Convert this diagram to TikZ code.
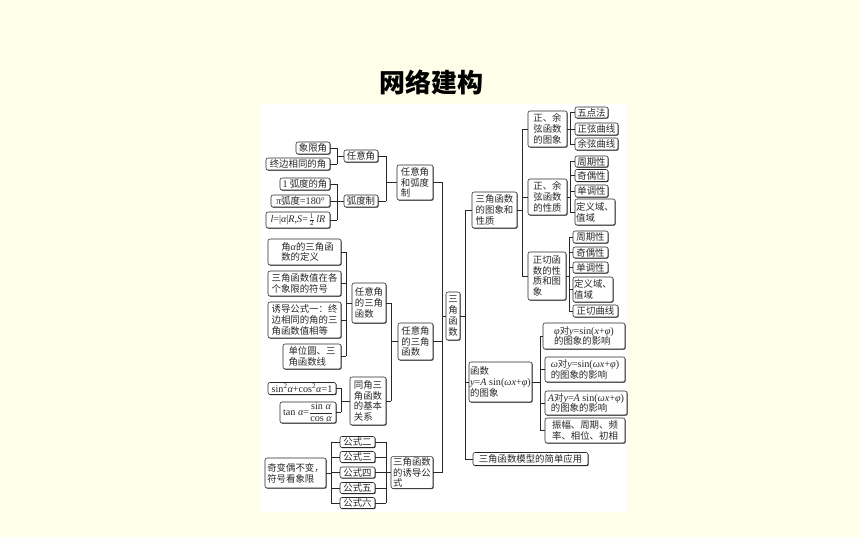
\documentclass[tikz,border=0pt]{standalone}
\usepackage{amsmath}
\usepackage[no-math]{fontspec}
\setmainfont{Noto Sans CJK SC}
\newfontfamily\lser[Scale=1.08]{Liberation Serif}
\usetikzlibrary{shadows}
\definecolor{bgc}{RGB}{254,254,233}
\definecolor{ink}{RGB}{40,40,40}
\newcommand\F[1]{{\lser #1}}
\newcommand\I[1]{{\lser\itshape #1}}
\newcommand\mybox[6]{\node[bx,minimum width=#4pt,minimum height=#5pt] (#1) at (#2,#3) {#6};}
\begin{document}
\begin{tikzpicture}[x=1pt,y=-1pt,
  bx/.style={draw=ink, line width=0.55pt, rounded corners=2pt, fill=white, inner xsep=1.2pt, inner ysep=0.8pt,
    align=left, text=ink, font=\fontsize{9.4}{10.8}\selectfont,
    drop shadow={shadow xshift=0.7pt,shadow yshift=-0.7pt,fill=ink,opacity=1}},
  ln/.style={line width=0.55pt, draw=ink}]
\fill[bgc] (0,0) rectangle (860,537);
\useasboundingbox (0,0) rectangle (860,537);
\fill[white] (260,104) rectangle (627,512);
\node[font=\fontsize{26}{30}\selectfont\bfseries, text=black] (title) at (431,82) {网络建构};

% ---- left top
\mybox{xj}{313}{148}{34}{12}{象限角}
\mybox{zb}{298}{164}{64}{12}{终边相同的角}
\mybox{ryj}{361}{156}{34}{12}{任意角}
\mybox{hda}{305}{184}{50}{12}{\F{1} 弧度的角}
\mybox{pib}{300.5}{201}{59}{12}{\F{π}弧度\F{=180°}}
\mybox{lar}{298}{220}{64}{16}{\I{l}\F{=|}\I{α}\F{|}\I{R}\F{,}\I{S}\F{=}\hspace{0.5pt}$\frac{1}{2}$\hspace{1.5pt}\I{lR}}
\mybox{hdz}{361}{201}{34}{12}{弧度制}
\mybox{ryjhd}{415}{182.5}{36}{35}{任意角\\和弧度\\制}

% ---- left middle
\mybox{jdy}{304.5}{252}{73}{26}{\hspace*{6pt}角\I{α}的三角函\\\hspace*{6pt}数的定义}
\mybox{fh}{304.5}{283.5}{73}{25}{三角函数值在各\\个象限的符号}
\mybox{yda}{304.5}{320}{73}{36}{诱导公式一：终\\边相同的角的三\\角函数值相等}
\mybox{dwy}{312}{356.5}{58}{25}{单位圆、三\\角函数线}
\mybox{rsj}{369}{303}{34}{40}{任意角\\的三角\\函数}
\mybox{sinb}{302}{388.5}{68}{12}{\F{sin\textsuperscript{2}}\I{α}\F{+cos\textsuperscript{2}}\I{α}\F{=1}}
\mybox{tanb}{308}{412.5}{56}{21}{\F{tan }\I{α}\F{=}$\dfrac{\text{\F{sin }\I{α}}}{\text{\F{cos }\I{α}}}$}
\mybox{tj}{368}{401}{36}{48}{同角三\\角函数\\的基本\\关系}
\mybox{rsjb}{415.5}{341.5}{35}{37}{任意角\\的三角\\函数}

% ---- formulas
\mybox{gsb}{357.5}{442}{35}{11}{公式二}
\mybox{gsc}{357.5}{457}{35}{11}{公式三}
\mybox{gsd}{357.5}{472.5}{35}{11}{公式四}
\mybox{gse}{357.5}{488}{35}{11}{公式五}
\mybox{gsf}{357.5}{503}{35}{11}{公式六}
\mybox{qb}{295.5}{473}{61}{30}{奇变偶不变，\\符号看象限}
\mybox{yd}{412}{472.5}{42}{31}{三角函数\\的诱导公\\式}

% ---- centre
\mybox{sj}{453}{316}{14}{48}{三\\角\\函\\数}

% ---- right
\mybox{txxz}{494.5}{210}{45}{36}{三角函数\\的图象和\\性质}
\mybox{zyt}{547.5}{129}{39}{36}{正、余\\弦函数\\的图象}
\mybox{wdf}{591.5}{112.5}{33}{11}{五点法}
\mybox{zxqx}{596.5}{129}{43}{12}{正弦曲线}
\mybox{yxqx}{596.5}{144}{43}{12}{余弦曲线}
\mybox{zyx}{547.5}{197}{39}{36}{正、余\\弦函数\\的性质}
\mybox{zqa}{591.5}{161.5}{33}{11}{周期性}
\mybox{joa}{591.5}{175.5}{33}{12}{奇偶性}
\mybox{dda}{591.5}{191}{33}{12}{单调性}
\mybox{dya}{595}{212}{40}{26}{定义域、\\值域}
\mybox{zqb}{590.5}{237}{35}{12}{周期性}
\mybox{job}{590.5}{252.5}{35}{11}{奇偶性}
\mybox{ddb}{590.5}{267.5}{35}{11}{单调性}
\mybox{dyb}{593}{289.5}{40}{25}{定义域、\\值域}
\mybox{zqqx}{595.5}{311}{45}{12}{正切曲线}
\mybox{zqhs}{547}{276}{38}{48}{正切函\\数的性\\质和图\\象}
\mybox{phb}{584}{336}{82}{26}{\I{φ}对\I{y}\F{=sin(}\I{x}\F{+}\I{φ}\F{)}\\的图象的影响}
\mybox{omb}{585}{369.5}{80}{25}{\I{ω}对\I{y}\F{=sin(}\I{ωx}\F{+}\I{φ}\F{)}\\的图象的影响}
\mybox{amb}{586}{403}{82}{24}{\I{A}对\I{y}\F{=}\I{A}\F{ sin(}\I{ωx}\F{+}\I{φ}\F{)}\\\hspace*{3pt}的图象的影响}
\mybox{zf}{585}{430.5}{80}{25}{振幅、周期、频\\率、相位、初相}
\mybox{hs}{500.5}{382}{61}{40}{函数\\\I{y}\F{=}\I{A}\F{ sin(}\I{ωx}\F{+}\I{φ}\F{)}\\的图象}
\mybox{yy}{530.5}{459}{115}{13}{三角函数模型的简单应用}

% ---- bar coordinates
\coordinate (ba) at (337,0);
\coordinate (bb) at (386,0);
\coordinate (bc) at (346,0);
\coordinate (bd) at (341,0);
\coordinate (be) at (391,0);
\coordinate (bf) at (331,0);
\coordinate (bL) at (442,0);
\coordinate (bR) at (465,0);
\coordinate (bg) at (522,0);
\coordinate (bh) at (570,0);
\coordinate (bi) at (569,0);
\coordinate (bj) at (540,0);

% ---- connectors, children on the left of the parent
\foreach \c in {xj,zb} \draw[ln] (\c.east) -- (\c.east -| ba);
\draw[ln] (xj.east -| ba) -- (zb.east -| ba);
\draw[ln] (ryj.west) -- (ryj.west -| ba);
\foreach \c in {hda,pib,lar} \draw[ln] (\c.east) -- (\c.east -| ba);
\draw[ln] (hda.east -| ba) -- (lar.east -| ba);
\draw[ln] (hdz.west) -- (hdz.west -| ba);
\foreach \c in {ryj,hdz} \draw[ln] (\c.east) -- (\c.east -| bb);
\draw[ln] (ryj.east -| bb) -- (hdz.east -| bb);
\draw[ln] (ryjhd.west) -- (ryjhd.west -| bb);

\foreach \c in {jdy,fh,yda,dwy} \draw[ln] (\c.east) -- (\c.east -| bc);
\draw[ln] (jdy.east -| bc) -- (dwy.east -| bc);
\draw[ln] (rsj.west) -- (rsj.west -| bc);
\foreach \c in {sinb,tanb} \draw[ln] (\c.east) -- (\c.east -| bd);
\draw[ln] (sinb.east -| bd) -- (tanb.east -| bd);
\draw[ln] (tj.west) -- (tj.west -| bd);
\foreach \c in {rsj,tj} \draw[ln] (\c.east) -- (\c.east -| be);
\draw[ln] (rsj.east -| be) -- (tj.east -| be);
\draw[ln] (rsjb.west) -- (rsjb.west -| be);

\foreach \c in {gsb,gsc,gsd,gse,gsf} {
  \draw[ln] (\c.west) -- (\c.west -| bf);
  \draw[ln] (\c.east) -- (\c.east -| bb);
}
\draw[ln] (gsb.west -| bf) -- (gsf.west -| bf);
\draw[ln] (qb.east) -- (qb.east -| bf);
\draw[ln] (gsb.east -| bb) -- (gsf.east -| bb);
\draw[ln] (yd.west) -- (yd.west -| bb);

\foreach \c in {ryjhd,rsjb,yd} \draw[ln] (\c.east) -- (\c.east -| bL);
\draw[ln] (ryjhd.east -| bL) -- (yd.east -| bL);
\draw[ln] (sj.west) -- (sj.west -| bL);

% ---- connectors, children on the right of the parent
\draw[ln] (sj.east) -- (sj.east -| bR);
\foreach \c in {txxz,hs,yy} \draw[ln] (\c.west) -- (\c.west -| bR);
\draw[ln] (txxz.west -| bR) -- (yy.west -| bR);

\draw[ln] (txxz.east) -- (txxz.east -| bg);
\foreach \c in {zyt,zyx,zqhs} \draw[ln] (\c.west) -- (\c.west -| bg);
\draw[ln] (zyt.west -| bg) -- (zqhs.west -| bg);

\draw[ln] (zyt.east) -- (zyt.east -| bh);
\foreach \c in {wdf,zxqx,yxqx} \draw[ln] (\c.west) -- (\c.west -| bh);
\draw[ln] (wdf.west -| bh) -- (yxqx.west -| bh);

\draw[ln] (zyx.east) -- (zyx.east -| bh);
\foreach \c in {zqa,joa,dda,dya} \draw[ln] (\c.west) -- (\c.west -| bh);
\draw[ln] (zqa.west -| bh) -- (dya.west -| bh);

\draw[ln] (zqhs.east) -- (zqhs.east -| bi);
\foreach \c in {zqb,job,ddb,dyb,zqqx} \draw[ln] (\c.west) -- (\c.west -| bi);
\draw[ln] (zqb.west -| bi) -- (zqqx.west -| bi);

\draw[ln] (hs.east) -- (hs.east -| bj);
\foreach \c in {phb,omb,amb,zf} \draw[ln] (\c.west) -- (\c.west -| bj);
\draw[ln] (phb.west -| bj) -- (zf.west -| bj);
\end{tikzpicture}
\end{document}
